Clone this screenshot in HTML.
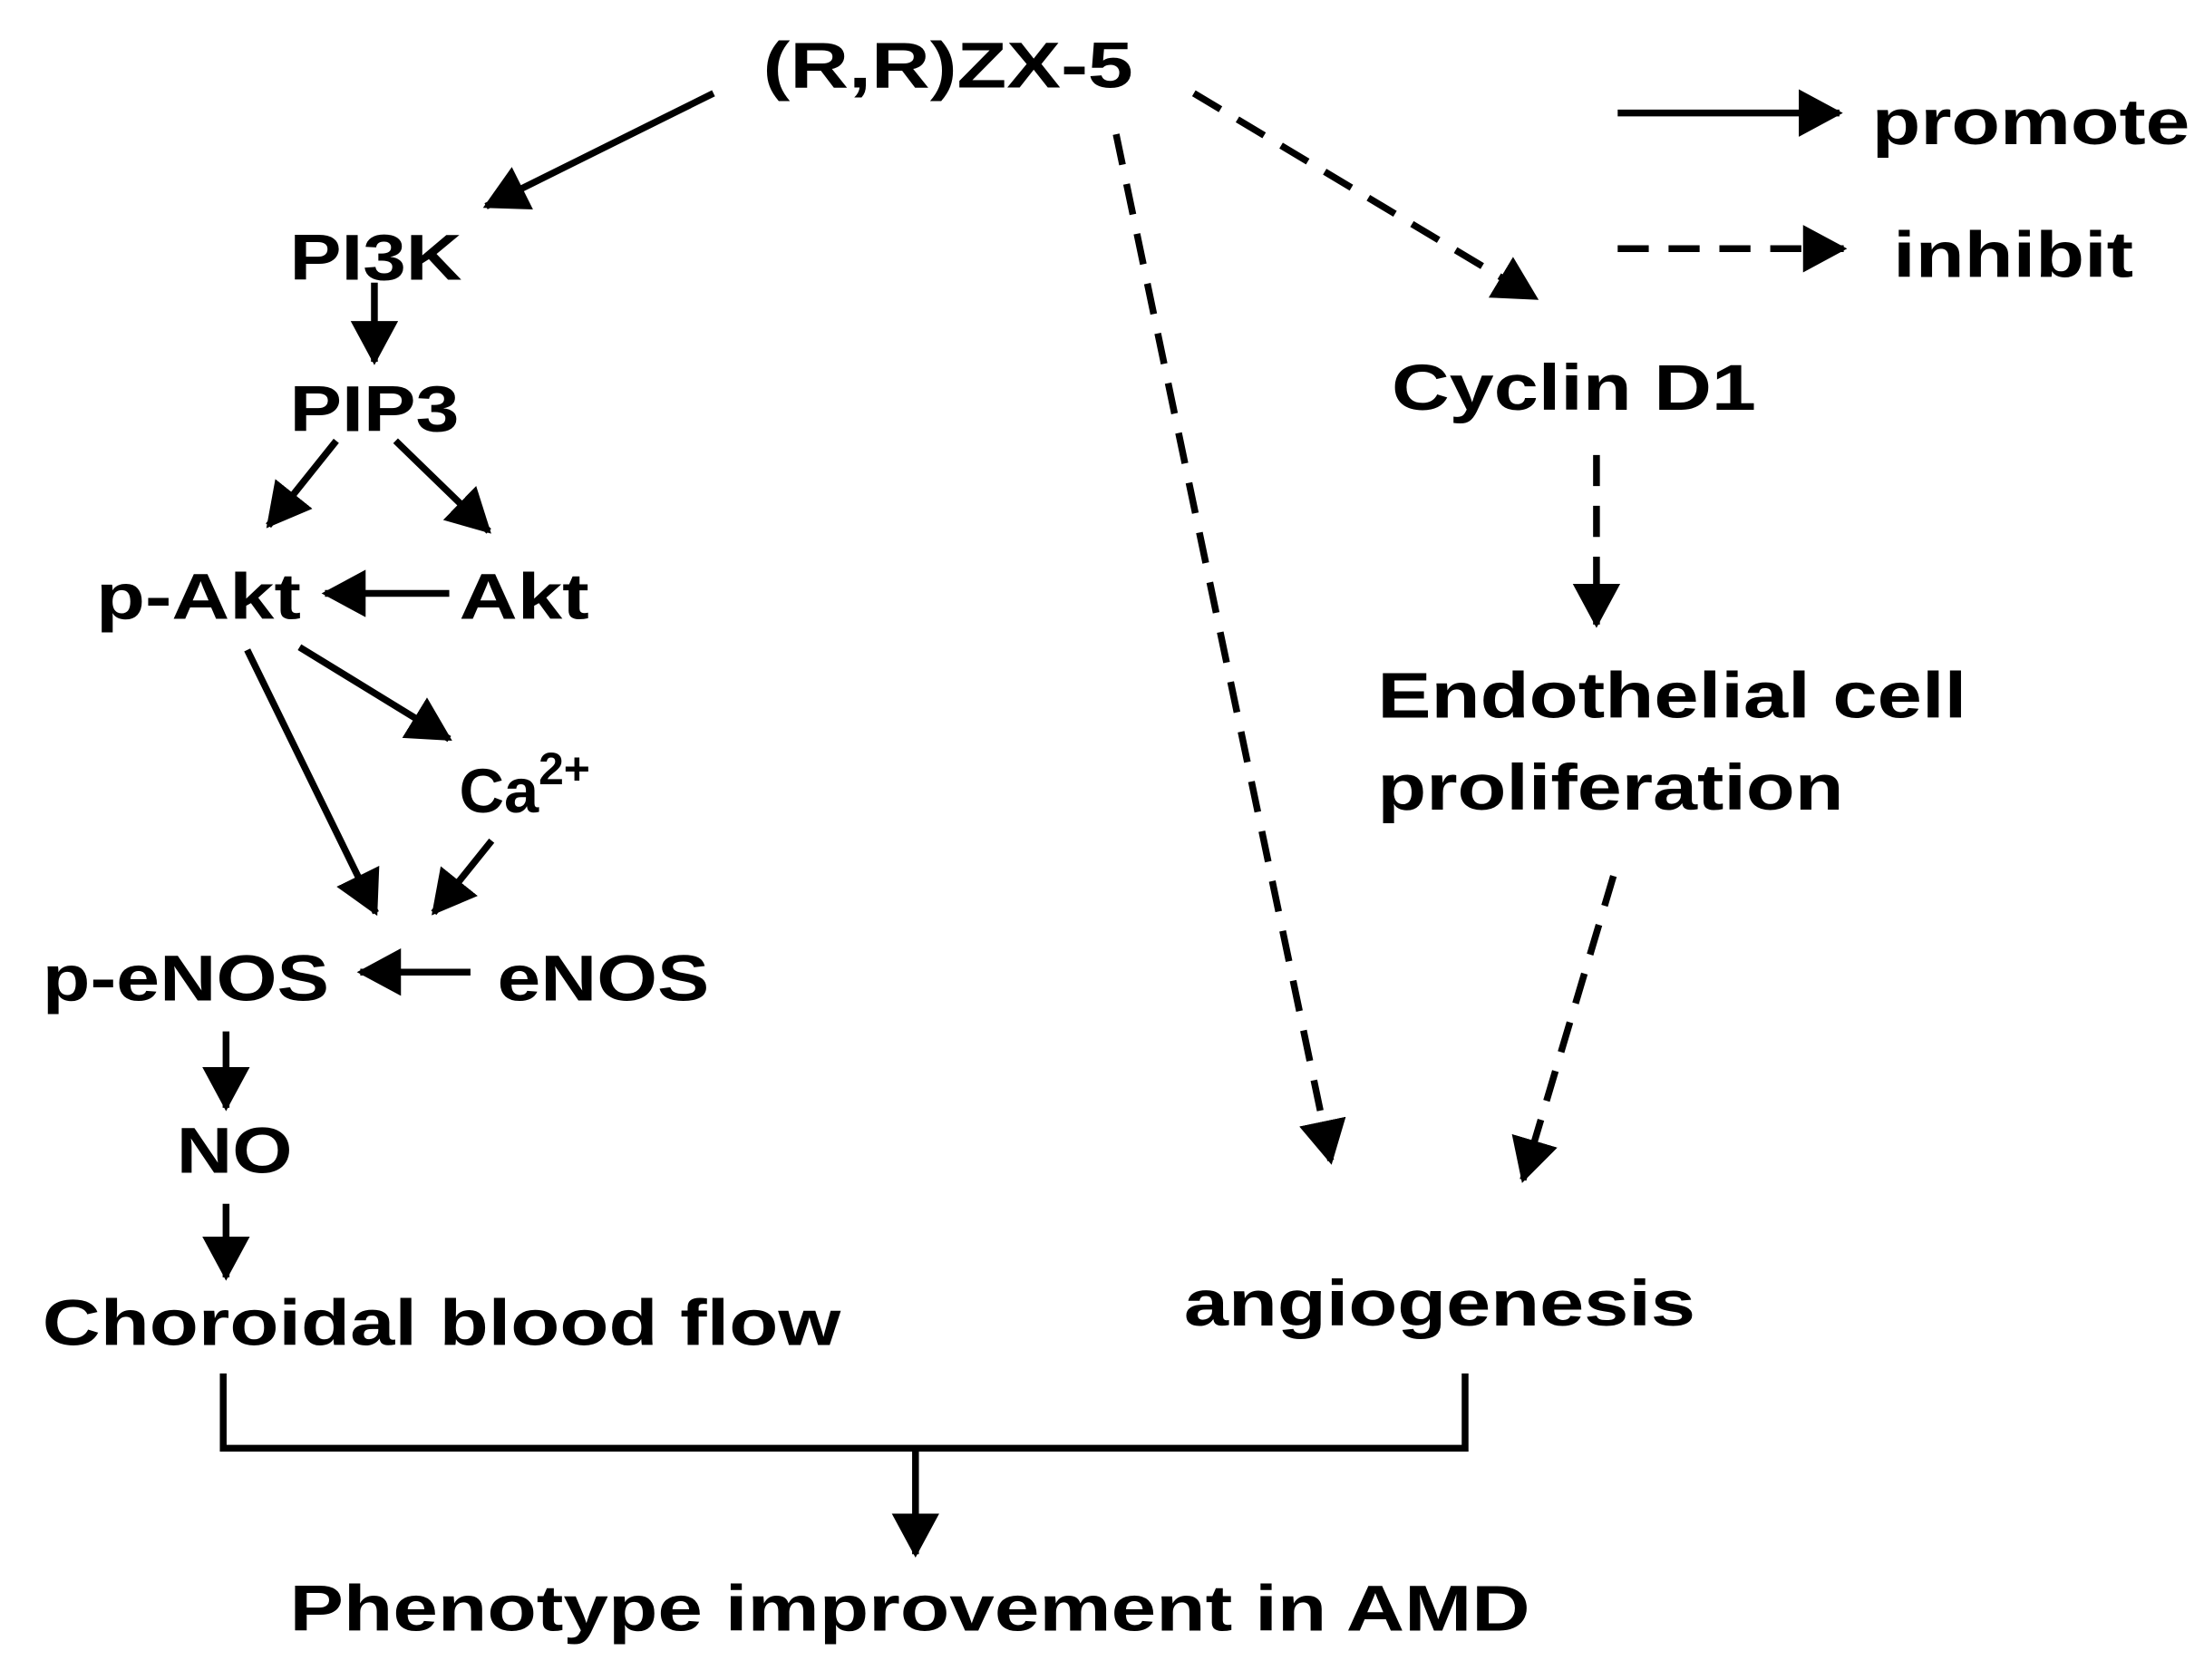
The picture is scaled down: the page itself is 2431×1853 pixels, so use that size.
<!DOCTYPE html>
<html><head><meta charset="utf-8"><style>html,body{margin:0;padding:0;background:#fff}svg{display:block}</style></head><body>
<svg width="2431" height="1853" viewBox="0 0 1560 1189" preserveAspectRatio="none" xmlns="http://www.w3.org/2000/svg">
<defs>
<marker id="a" markerWidth="8" markerHeight="8" refX="6" refY="3.5" orient="auto" markerUnits="strokeWidth">
<path d="M0,0 L6.5,3.5 L0,7 Z" fill="#000"/></marker>
</defs>
<rect width="1560" height="1189" fill="#fff"/>
<g font-family="Liberation Sans, Arial, sans-serif" font-weight="bold" font-size="46" fill="#000">
<text x="540" y="62" textLength="262" lengthAdjust="spacingAndGlyphs">(R,R)ZX-5</text>
<text x="1325" y="102" textLength="225" lengthAdjust="spacingAndGlyphs">promote</text>
<text x="1340" y="196" textLength="170" lengthAdjust="spacingAndGlyphs">inhibit</text>
<text x="205" y="198" textLength="122" lengthAdjust="spacingAndGlyphs">PI3K</text>
<text x="205" y="305" textLength="120" lengthAdjust="spacingAndGlyphs">PIP3</text>
<text x="68" y="438" textLength="145" lengthAdjust="spacingAndGlyphs">p-Akt</text>
<text x="325" y="438" textLength="92" lengthAdjust="spacingAndGlyphs">Akt</text>
<text x="325" y="575" font-size="44">Ca<tspan font-size="32" dy="-20">2+</tspan></text>
<text x="30" y="708" textLength="203" lengthAdjust="spacingAndGlyphs">p-eNOS</text>
<text x="352" y="708" textLength="150" lengthAdjust="spacingAndGlyphs">eNOS</text>
<text x="125" y="830" textLength="82" lengthAdjust="spacingAndGlyphs">NO</text>
<text x="30" y="952" textLength="565" lengthAdjust="spacingAndGlyphs">Choroidal blood flow</text>
<text x="985" y="290" textLength="258" lengthAdjust="spacingAndGlyphs">Cyclin D1</text>
<text x="975" y="508" textLength="417" lengthAdjust="spacingAndGlyphs">Endothelial cell</text>
<text x="975" y="573" textLength="330" lengthAdjust="spacingAndGlyphs">proliferation</text>
<text x="838" y="938" textLength="362" lengthAdjust="spacingAndGlyphs">angiogenesis</text>
<text x="205" y="1154" textLength="878" lengthAdjust="spacingAndGlyphs">Phenotype improvement in AMD</text>
</g>
<g stroke="#000" stroke-width="4.8" fill="none" marker-end="url(#a)">
<line x1="1145" y1="80" x2="1302" y2="80"/>
<line x1="1145" y1="176" x2="1305" y2="176" stroke-dasharray="22,14"/>
<line x1="505" y1="66" x2="344" y2="146"/>
<line x1="265" y1="200" x2="265" y2="256"/>
<line x1="238" y1="312" x2="190" y2="372"/>
<line x1="280" y1="312" x2="346" y2="376"/>
<line x1="318" y1="420" x2="230" y2="420"/>
<line x1="212" y1="458" x2="318" y2="523"/>
<line x1="175" y1="460" x2="266" y2="646"/>
<line x1="348" y1="595" x2="307" y2="646"/>
<line x1="333" y1="688" x2="255" y2="688"/>
<line x1="160" y1="730" x2="160" y2="784"/>
<line x1="160" y1="852" x2="160" y2="904"/>
<line x1="845" y1="66" x2="1087" y2="211" stroke-dasharray="22,14"/>
<line x1="790" y1="95" x2="942" y2="822" stroke-dasharray="22,14"/>
<line x1="1130" y1="322" x2="1130" y2="442" stroke-dasharray="22,14"/>
<line x1="1142" y1="620" x2="1078" y2="835" stroke-dasharray="22,14"/>
<line x1="648" y1="1025" x2="648" y2="1100"/>
</g>
<path d="M158,972 V1025 H1037 V972" stroke="#000" stroke-width="4.8" fill="none"/>
</svg>
</body></html>
